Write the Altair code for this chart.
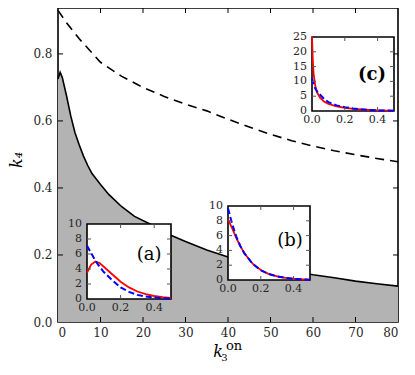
import altair as alt
import pandas as pd

FONT = "DejaVu Serif"

# ---------------- data ----------------
solid_x = [0, 0.5, 1, 2, 3, 4, 5, 6, 7, 8, 10, 12, 15, 18, 22, 26, 30, 35, 40, 45, 50, 55, 60, 65, 70, 75, 80]
solid_y = [0.725, 0.745, 0.73, 0.675, 0.615, 0.565, 0.528, 0.495, 0.467, 0.443, 0.41, 0.38, 0.344, 0.315,
           0.29, 0.262, 0.24, 0.215, 0.194, 0.178, 0.164, 0.152, 0.141, 0.132, 0.122, 0.114, 0.107]

dash_x = [0, 2, 5, 10, 15, 20, 25, 30, 35, 40, 45, 50, 55, 60, 65, 70, 75, 80]
dash_y = [0.93, 0.893, 0.845, 0.775, 0.733, 0.70, 0.673, 0.65, 0.63, 0.605, 0.582, 0.56, 0.541, 0.525,
          0.511, 0.499, 0.488, 0.478]

main_xticks = [0, 10, 20, 30, 40, 50, 60, 70, 80]
main_yticks = [0.0, 0.2, 0.4, 0.6, 0.8]

inset_x = [0, 0.025, 0.05, 0.075, 0.1, 0.15, 0.2, 0.25, 0.3, 0.35, 0.4, 0.45, 0.5]
a_red = [3.5, 4.6, 5.0, 4.8, 4.3, 3.3, 2.3, 1.55, 1.0, 0.65, 0.4, 0.25, 0.15]
a_blue = [7.1, 6.1, 5.1, 4.3, 3.6, 2.5, 1.55, 0.95, 0.55, 0.33, 0.2, 0.11, 0.06]

b_red = [8.2, 7.0, 5.7, 4.6, 3.6, 2.2, 1.35, 0.8, 0.5, 0.3, 0.18, 0.1, 0.06]
b_blue = [9.7, 7.6, 5.9, 4.6, 3.6, 2.2, 1.3, 0.8, 0.48, 0.28, 0.16, 0.09, 0.05]

c_x = [0, 0.005, 0.01, 0.02, 0.03, 0.05, 0.075, 0.1, 0.15, 0.2, 0.25, 0.3, 0.35, 0.4, 0.45, 0.5]
c_red = [25, 17, 12.5, 8.5, 6.4, 4.4, 3.1, 2.4, 1.6, 1.1, 0.75, 0.5, 0.34, 0.24, 0.16, 0.11]
c_blue = [11, 9.8, 8.9, 7.6, 6.7, 5.5, 4.0, 3.0, 1.9, 1.3, 0.85, 0.55, 0.35, 0.22, 0.14, 0.09]

inset_xlabels = [0.0, 0.2, 0.4]
inset_xticks = [0.2, 0.4]
ab_ylabels = [0, 2, 4, 6, 8, 10]
ab_yticks = [2, 4, 6, 8]
c_ylabels = [0, 5, 10, 15, 20, 25]
c_yticks = [5, 10, 15, 20]

# ---------------- layout ----------------
W, H = 340, 314
MAIN_X = [0, 80]
MAIN_Y = [0, 0.937]


def scale(dom, rng=None):
    if rng is None:
        return alt.Scale(domain=dom, nice=False, zero=False)
    return alt.Scale(domain=dom, range=rng, nice=False, zero=False)


one = pd.DataFrame({"d": [0]})

layers = []

# main gray area with axes
solid_df = pd.DataFrame({"x": solid_x, "y": solid_y})
axis_common = dict(tickSize=0, labelFont=FONT, labelFontSize=12, labelColor="#262626",
                   domain=False, grid=False, title=None)
layers.append(
    alt.Chart(solid_df).mark_area(color="#b3b3b3").encode(
        x=alt.X("x:Q", scale=scale(MAIN_X),
                axis=alt.Axis(values=main_xticks, format="d", labelPadding=5, **axis_common)),
        y=alt.Y("y:Q", scale=scale(MAIN_Y),
                axis=alt.Axis(values=main_yticks, format=".1f", labelPadding=6, **axis_common)),
    )
)
layers.append(
    alt.Chart(solid_df).mark_line(color="black", strokeWidth=1.6).encode(
        x=alt.X("x:Q", scale=scale(MAIN_X), axis=None),
        y=alt.Y("y:Q", scale=scale(MAIN_Y), axis=None),
    )
)
dash_df = pd.DataFrame({"x": dash_x, "y": dash_y})
layers.append(
    alt.Chart(dash_df).mark_line(color="black", strokeWidth=1.6, strokeDash=[9, 6]).encode(
        x=alt.X("x:Q", scale=scale(MAIN_X), axis=None),
        y=alt.Y("y:Q", scale=scale(MAIN_Y), axis=None),
    )
)

# main inward ticks
mxt = pd.DataFrame({"v": main_xticks[1:-1]})
myt = pd.DataFrame({"v": main_yticks[1:]})
for ydat, off in [(MAIN_Y[0], -5), (MAIN_Y[1], 5)]:
    layers.append(
        alt.Chart(mxt).mark_rule(color="black", strokeWidth=1, y2Offset=off).encode(
            x=alt.X("v:Q", scale=scale(MAIN_X), axis=None),
            y=alt.Y(datum=ydat, type="quantitative", scale=scale(MAIN_Y), axis=None),
            y2=alt.Y2(datum=ydat),
        )
    )
for xdat, off in [(MAIN_X[0], 5), (MAIN_X[1], -5)]:
    layers.append(
        alt.Chart(myt).mark_rule(color="black", strokeWidth=1, x2Offset=off).encode(
            y=alt.Y("v:Q", scale=scale(MAIN_Y), axis=None),
            x=alt.X(datum=xdat, type="quantitative", scale=scale(MAIN_X), axis=None),
            x2=alt.X2(datum=xdat),
        )
    )


def inset(xs, red, blue, label, xr, yr, ymax, ylabels, yticks, lx, ly, bold=False):
    XS = lambda: scale([0, 0.5], xr)
    YS = lambda: scale([0, ymax], yr)
    out = []
    out.append(
        alt.Chart(one).mark_rect(fill="white", stroke="black", strokeWidth=1.6).encode(
            x=alt.X(datum=0, type="quantitative", scale=XS(), axis=None),
            x2=alt.X2(datum=0.5),
            y=alt.Y(datum=0, type="quantitative", scale=YS(), axis=None),
            y2=alt.Y2(datum=ymax),
        )
    )
    df = pd.DataFrame({"x": xs, "red": red, "blue": blue})
    out.append(
        alt.Chart(df).mark_line(color="#ff0000", strokeWidth=1.8).encode(
            x=alt.X("x:Q", scale=XS(), axis=None),
            y=alt.Y("red:Q", scale=YS(), axis=None),
        )
    )
    out.append(
        alt.Chart(df).mark_line(color="#0000ff", strokeWidth=2, strokeDash=[6, 3]).encode(
            x=alt.X("x:Q", scale=XS(), axis=None),
            y=alt.Y("blue:Q", scale=YS(), axis=None),
        )
    )
    xt = pd.DataFrame({"v": inset_xticks})
    yt = pd.DataFrame({"v": yticks})
    for ydat, off in [(0, -4), (ymax, 4)]:
        out.append(
            alt.Chart(xt).mark_rule(color="#555555", strokeWidth=1, y2Offset=off).encode(
                x=alt.X("v:Q", scale=XS(), axis=None),
                y=alt.Y(datum=ydat, type="quantitative", scale=YS(), axis=None),
                y2=alt.Y2(datum=ydat),
            )
        )
    for xdat, off in [(0, 4), (0.5, -4)]:
        out.append(
            alt.Chart(yt).mark_rule(color="#555555", strokeWidth=1, x2Offset=off).encode(
                y=alt.Y("v:Q", scale=YS(), axis=None),
                x=alt.X(datum=xdat, type="quantitative", scale=XS(), axis=None),
                x2=alt.X2(datum=xdat),
            )
        )
    xl = pd.DataFrame({"v": inset_xlabels, "t": [f"{v:.1f}" for v in inset_xlabels]})
    out.append(
        alt.Chart(xl).mark_text(font=FONT, fontSize=11, color="#262626", baseline="top", dy=3).encode(
            x=alt.X("v:Q", scale=XS(), axis=None),
            y=alt.Y(datum=0, type="quantitative", scale=YS(), axis=None),
            text="t:N",
        )
    )
    yl = pd.DataFrame({"v": ylabels, "t": [str(v) for v in ylabels]})
    out.append(
        alt.Chart(yl).mark_text(font=FONT, fontSize=11, color="#262626", align="right",
                                baseline="middle", dx=-5).encode(
            y=alt.Y("v:Q", scale=YS(), axis=None),
            x=alt.X(datum=0, type="quantitative", scale=XS(), axis=None),
            text="t:N",
        )
    )
    out.append(
        alt.Chart(one).mark_text(font=FONT, fontSize=18, color="black", baseline="middle",
                                 fontWeight="bold" if bold else "normal", text=label).encode(
            x=alt.X(datum=lx, type="quantitative", scale=XS(), axis=None),
            y=alt.Y(datum=ly, type="quantitative", scale=YS(), axis=None),
        )
    )
    return out


layers += inset(inset_x, a_red, a_blue, "(a)", [29, 113], [291, 216], 10, ab_ylabels, ab_yticks, 0.37, 5.9)
layers += inset(inset_x, b_red, b_blue, "(b)", [170, 252], [272, 198], 10, ab_ylabels, ab_yticks, 0.378, 5.3)
layers += inset(c_x, c_red, c_blue, "(c)", [254, 336], [103, 29], 25, c_ylabels, c_yticks, 0.366, 12.2, bold=True)

# axis titles
layers.append(
    alt.Chart(one).mark_text(text="k₄", font=FONT, fontSize=16, fontStyle="italic", angle=270,
                             baseline="middle", align="center").encode(
        x=alt.value(-41), y=alt.value(152))
)
layers.append(
    alt.Chart(one).mark_text(text="k", font=FONT, fontSize=16, fontStyle="italic",
                             baseline="middle", align="center").encode(
        x=alt.value(160), y=alt.value(344))
)
layers.append(
    alt.Chart(one).mark_text(text="3", font=FONT, fontSize=10,
                             baseline="middle", align="center").encode(
        x=alt.value(166.5), y=alt.value(350))
)
layers.append(
    alt.Chart(one).mark_text(text="on", font=FONT, fontSize=13,
                             baseline="middle", align="center").encode(
        x=alt.value(176), y=alt.value(338))
)

chart = (
    alt.layer(*layers)
    .resolve_scale(x="independent", y="independent")
    .properties(width=W, height=H, autosize=alt.AutoSizeParams(type="none"),
                padding={"left": 50, "top": 0, "right": 9, "bottom": 45})
    .configure_view(stroke="black", strokeWidth=1.6)
)

chart.save("out.html", embed_options={"renderer": "svg", "actions": False})
